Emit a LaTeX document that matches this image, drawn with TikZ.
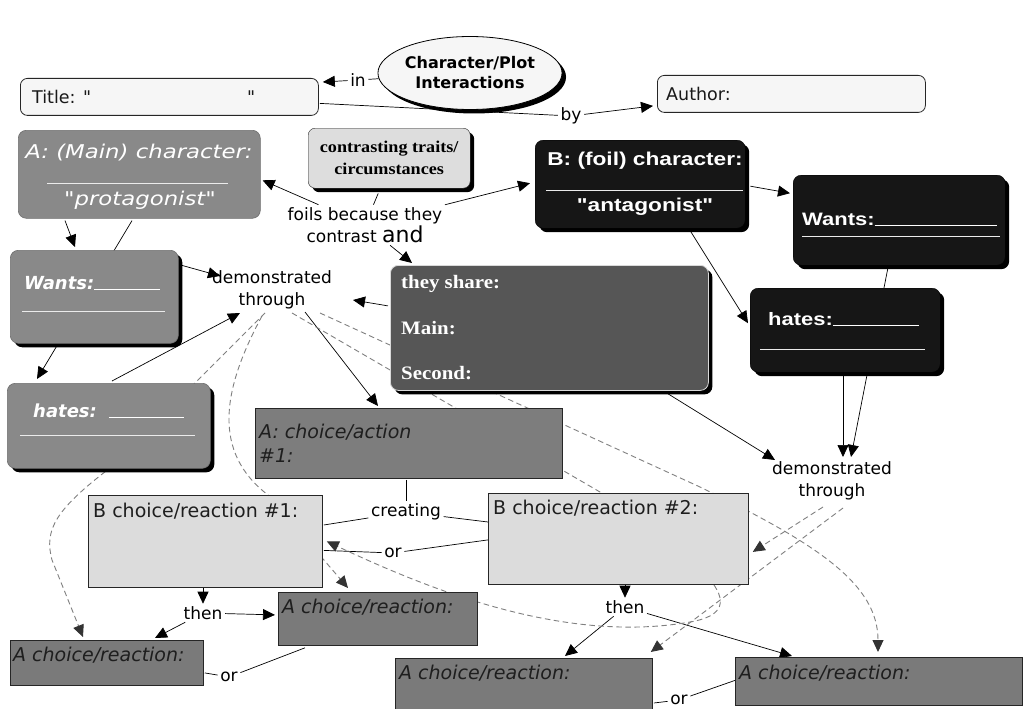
\documentclass[tikz,border=0pt]{standalone}
\usepackage{fontspec}
\setmainfont{DejaVu Sans}[Ligatures=TeXOff]
\newfontfamily\serifbf[FakeStretch=1.1,Ligatures=TeXOff]{Liberation Serif}
\newfontfamily\arialwide[FakeStretch=1.22,Ligatures=TeXOff]{Liberation Sans}
\newfontfamily\dejawide[FakeStretch=1.2,Ligatures=TeXOff]{DejaVu Sans}
\usetikzlibrary{arrows.meta,shapes.geometric,shadows,calc}
\pgfdeclarelayer{back}
\pgfdeclarelayer{bg}
\pgfsetlayers{back,bg,main}
\definecolor{lightbg}{HTML}{F6F6F6}
\definecolor{agray}{HTML}{898989}
\definecolor{contrbg}{HTML}{DDDDDD}
\definecolor{blackbox}{HTML}{161616}
\definecolor{sharebg}{HTML}{565656}
\definecolor{actbg}{HTML}{7D7D7D}
\definecolor{bbg}{HTML}{DCDCDC}
\definecolor{chbg}{HTML}{7A7A7A}
\definecolor{dashc}{HTML}{808080}
\definecolor{darktext}{HTML}{1E1E1E}
\tikzset{
  lnk/.style={line width=0.7pt, draw=black},
  arr/.style={lnk, -{Triangle[length=12pt,width=11pt]}},
  dsh/.style={draw=dashc, line width=0.9pt, dash pattern=on 5.5pt off 3.5pt},
  darr/.style={dsh, -{Triangle[length=12pt,width=11pt,color=black!80]}},
  lbl/.style={font=\fontsize{17}{22}\selectfont, inner sep=2.5pt, align=center, text=black},
  sz/.style 2 args={minimum width=#1pt, minimum height=#2pt, anchor=north west, inner sep=0pt},
  bshadow/.style={drop shadow={shadow xshift=4pt, shadow yshift=-4pt, fill=black, opacity=1}},
  lightbox/.style={draw=black!85, fill=lightbg, rounded corners=7pt, line width=0.8pt},
  abox/.style={draw=agray!80!black, fill=agray, rounded corners=8pt, line width=0.6pt},
  ashbox/.style={abox, bshadow},
  blbox/.style={draw=black, fill=blackbox, rounded corners=8pt, bshadow},
  contrbox/.style={draw=black!85, fill=contrbg, rounded corners=7pt, bshadow, align=center,
    font=\serifbf\bfseries\fontsize{16.5}{22}\selectfont},
  sharebox/.style={draw=white!85!black, line width=0.8pt, fill=sharebg, rounded corners=8pt, bshadow},
  rectbox/.style={draw=black!85, line width=0.8pt},
  txt/.style={font=\fontsize{17.5}{21}\selectfont, inner sep=0pt, text=black!90},
  witxt/.style={font=\dejawide\itshape\fontsize{19}{22}\selectfont, inner sep=0pt, text=white},
  wbitxt/.style={font=\bfseries\itshape\fontsize{18}{22}\selectfont, inner sep=0pt, text=white},
  wbtxt/.style={font=\arialwide\bfseries\fontsize{18}{22}\selectfont, inner sep=0pt, text=white},
  wbtxtl/.style={font=\arialwide\bfseries\fontsize{18.6}{22}\selectfont, inner sep=0pt, text=white},
  stxt/.style={font=\serifbf\bfseries\fontsize{19}{22}\selectfont, inner sep=0pt, text=white},
  ctxt/.style={font=\itshape\fontsize{19}{22}\selectfont, inner sep=0pt, text=darktext},
  btxt/.style={font=\fontsize{19}{22}\selectfont, inner sep=0pt, text=darktext},
  wline/.style={draw=white!92!black, line width=0.9pt},
}
\begin{document}
\begin{tikzpicture}[x=1pt,y=-1pt]
\begin{pgfonlayer}{back}
\fill[white] (0,0) rectangle (1029,709);
\end{pgfonlayer}
\useasboundingbox (0,0) rectangle (1029,709);

% ---------- top ----------
\node[ellipse, draw=black, line width=0.8pt, fill=lightbg, minimum width=165pt, minimum height=73pt,
  inner sep=0pt, bshadow, align=center, font=\bfseries\fontsize{16}{20}\selectfont] (cp) at (470,73)
  {Character/Plot\\Interactions};
\node[lightbox, sz={298}{37}] (title) at (20,78) {};
\node[txt, anchor=west] (titletxt) at (32,97) {Title: "\hspace{156pt}"};
\node[lightbox, sz={268}{37}] (author) at (657,75) {};
\node[txt, anchor=west] (authortxt) at (666,94) {Author:};
\node[lbl] (inl) at (358,80) {in};
\node[lbl] (byl) at (571,116) {by};

% ---------- A side ----------
\node[abox, sz={242}{88}] (amain) at (18,130) {};
\node[witxt] (amain1) at (139,153) {A: (Main) character:};
\draw[wline] (47,183) -- (228,183);
\node[witxt] (amain2) at (140,200) {"protagonist"};

\node[ashbox, sz={168}{93}] (wantsa) at (10,250) {};
\node[wbitxt, anchor=base west] (wantsatxt) at (24,289) {Wants:\rule[-1pt]{66pt}{0.9pt}};
\draw[wline] (22,311) -- (165,311);

\node[ashbox, sz={203}{85}] (hatesa) at (7,383) {};
\node[wbitxt, anchor=base west] (hatesatxt) at (33,417) {hates:\hspace{12pt}\rule[-1pt]{75pt}{0.9pt}};
\draw[wline] (20,435) -- (195,435);

% ---------- middle ----------
\node[contrbox, sz={162}{60}] (contr) at (308,128) {contrasting traits/\\circumstances};
\node[lbl] (foils) at (365,225) {foils because they\\contrast {\fontsize{22}{22}\selectfont and}};

\node[sharebox, sz={318}{125}] (share) at (390,265) {};
\node[stxt, anchor=west] (sharet1) at (401,284) {they share:};
\node[stxt, anchor=west] (sharet2) at (401,328) {Main:};
\node[stxt, anchor=west] (sharet3) at (401,373) {Second:};

\node[lbl] (demol) at (272,290) {demonstrated\\through};

% ---------- B side ----------
\node[blbox, sz={210}{88}] (bmain) at (535,140) {};
\node[wbtxtl] (bmain1) at (645,161) {B: (foil) character:};
\draw[wline] (546,190) -- (743,190);
\node[wbtxtl] (bmain2) at (645,207) {"antagonist"};

\node[blbox, sz={212}{90}] (wantsb) at (793,175) {};
\node[wbtxt, anchor=base west] (wantsbtxt) at (802,225) {Wants:\rule[-1pt]{122pt}{0.9pt}};
\draw[wline] (802,236) -- (1000,236);

\node[blbox, sz={190}{84}] (hatesb) at (750,288) {};
\node[wbtxt, anchor=base west] (hatesbtxt) at (768,325) {hates:\rule[-1pt]{86pt}{0.9pt}};
\draw[wline] (760,349) -- (925,349);

\node[lbl] (demor) at (832,481) {demonstrated\\through};

% ---------- choices ----------
\node[rectbox, fill=actbg, sz={307}{70}] (acta) at (255,408) {};
\node[ctxt, anchor=west] (actat1) at (259,432) {A: choice/action};
\node[ctxt, anchor=west] (actat2) at (259,456) {\#1:};

\node[rectbox, fill=bbg, sz={234}{92}] (b1) at (88,495) {};
\node[btxt, anchor=west] (b1t) at (93,511) {B choice/reaction \#1:};
\node[rectbox, fill=bbg, sz={260}{91}] (b2) at (488,493) {};
\node[btxt, anchor=west] (b2t) at (493,508) {B choice/reaction \#2:};

\node[lbl] (creating) at (406,512) {creating};
\node[lbl] (orb) at (393,553) {or};
\node[lbl] (then1) at (203,613) {then};
\node[lbl] (then2) at (625,607) {then};
\node[lbl] (or1) at (229,677) {or};
\node[lbl] (or2) at (679,700) {or};

\node[rectbox, fill=chbg, sz={199}{53}] (choicem) at (278,592) {};
\node[ctxt, anchor=west] (choicemt) at (282,607) {A choice/reaction:};
\node[rectbox, fill=chbg, sz={193}{45}] (choicell) at (10,640) {};
\node[ctxt, anchor=west] (choicellt) at (13,655) {A choice/reaction:};
\node[rectbox, fill=chbg, sz={257}{70}] (choicebm) at (395,658) {};
\node[ctxt, anchor=west] (choicebmt) at (399,673) {A choice/reaction:};
\node[rectbox, fill=chbg, sz={287}{48}] (choicer) at (735,657) {};
\node[ctxt, anchor=west] (choicert) at (739,673) {A choice/reaction:};

% ---------- connectors ----------
\begin{pgfonlayer}{bg}
\draw[lnk] (cp) -- (inl);
\draw[arr] (inl) -- ($(title.north east)+(4,4)$);
\draw[lnk] ($(title.east)+(1,6.5)$) -- (byl);
\draw[arr] (byl) -- ($(author.west)+(-4,12)$);

\draw[lnk] ($(contr.south)+(-11,5)$) -- (foils);
\draw[arr] (foils) -- ($(amain.east)+(2,6)$);
\draw[arr] (foils) -- ($(bmain.west)+(-5,-1)$);
\draw[arr] (foils) -- ($(share.north west)+(22,-2)$);

\draw[arr] ($(amain.south west)+(47,2)$) -- ($(wantsa.north west)+(65,-3)$);
\draw[arr] ($(amain.south west)+(114,2)$) -- ($(hatesa.north west)+(30,-4)$);
\draw[arr] ($(wantsa.north east)+(2,15)$) -- ($(demol)+(-52,-14)$);
\draw[arr] ($(hatesa.north west)+(105,-2)$) -- ($(demol)+(-32,23)$);
\draw[arr] ($(share.west)+(-2,-22)$) -- ($(demol)+(81,10)$);
\draw[arr] ($(demol)+(33,22)$) -- ($(acta.north west)+(123,-2)$);

\draw[arr] ($(bmain.east)+(5,2)$) -- ($(wantsb.west)+(-3,-27)$);
\draw[arr] ($(bmain.south west)+(155,2)$) -- ($(hatesb.west)+(-2,-7)$);
\draw[arr] ($(wantsb.south west)+(95,2)$) -- ($(demor)+(19,-24)$);
\draw[arr] ($(hatesb.south west)+(93,2)$) -- ($(demor)+(11,-24)$);
\draw[arr] ($(share.south west)+(278,3)$) -- ($(demor)+(-57,-21)$);

\draw[lnk] ($(acta.south west)+(151,1)$) -- (creating);
\draw[lnk] (creating) -- ($(b1.north east)+(1,30)$);
\draw[lnk] (creating) -- ($(b2.north west)+(0,29)$);
\draw[lnk] ($(b2.west)+(0,1)$) -- (orb);
\draw[lnk] (orb) -- ($(b1.east)+(1,9)$);

\draw[arr] ($(b1.south west)+(115,0)$) -- (then1.north);
\draw[arr] (then1) -- ($(choicell.north west)+(145,-2)$);
\draw[arr] (then1) -- ($(choicem.west)+(-3,-4)$);
\draw[arr] ($(b2.south west)+(137,0)$) -- (then2.north);
\draw[arr] (then2) -- ($(choicebm.north west)+(170,-2)$);
\draw[arr] (then2) -- ($(choicer.north west)+(57,-1)$);

\draw[lnk] ($(choicell.east)+(1,10)$) -- (or1);
\draw[lnk] (or1) -- ($(choicem.south west)+(27,2)$);
\draw[lnk] ($(choicebm.north east)+(1,45)$) -- (or2);
\draw[lnk] (or2) -- ($(choicer.west)+(0,-1)$);

% dashed links
\draw[darr] ($(demol)+(-7,23)$) -- (110,468) .. controls (55,510) and (44,530) .. (52,560)
  -- ($(choicell.north west)+(73,-3)$);
\draw[darr] ($(demol)+(-10,26)$) .. controls (222,390) and (212,452) .. (268,495)
  -- ($(choicem.north west)+(70,-4)$);
\draw[darr] ($(demol)+(48,23)$) -- (700,487) .. controls (820,545) and (878,585) ..
  ($(choicer.north west)+(143,-5)$);
\draw[darr] ($(demol)+(20,23)$) -- (600,492) .. controls (700,560) and (760,610) .. (690,622)
  .. controls (560,645) and (420,585) .. ($(b1.east)+(4,0)$);
\draw[darr] ($(demor)+(-9,26)$) -- ($(b2.east)+(4,13)$);
\draw[darr] ($(demor)+(11,27)$) -- ($(choicebm.north east)+(-2,-6)$);
\end{pgfonlayer}
\end{tikzpicture}
\end{document}
